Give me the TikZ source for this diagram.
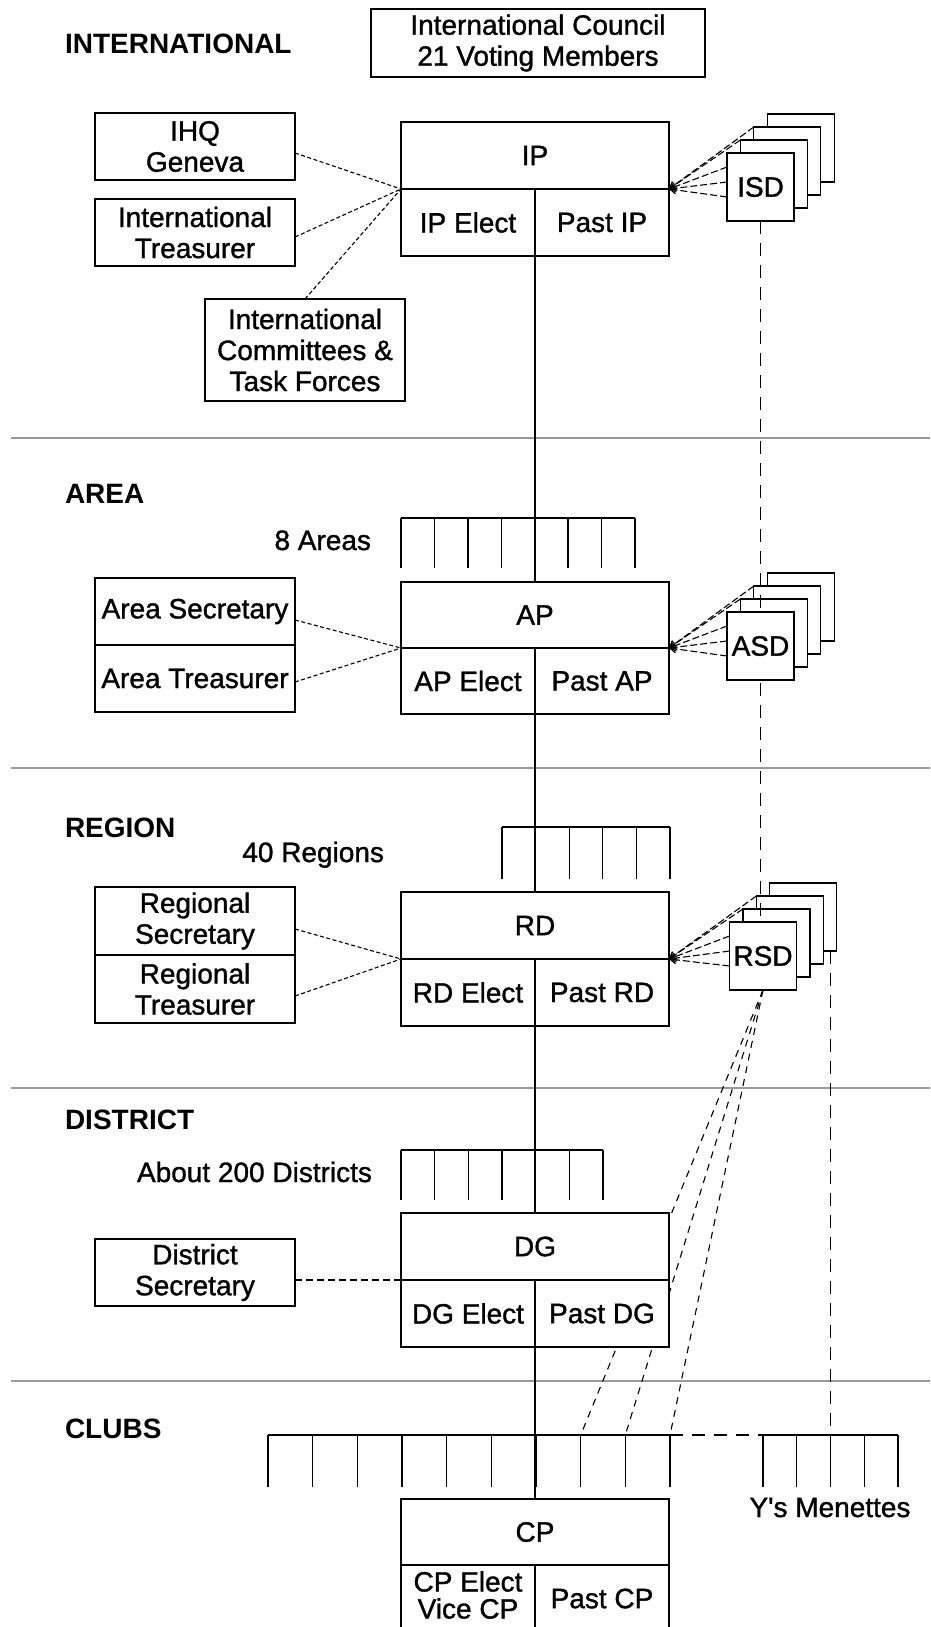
\documentclass[tikz,border=0pt]{standalone}
\usepackage{fontspec}
\setmainfont{Liberation Sans}
\newfontfamily\boxfont{Liberation Sans}[FakeBold=1.2]
\usetikzlibrary{arrows.meta,calc}
\begin{document}
\begin{tikzpicture}[x=1pt,y=-1pt,
 every node/.style={inner sep=0pt,outer sep=0pt,align=center,font=\fontsize{28}{31}\selectfont\boxfont},
 box/.style={draw,fill=white,line width=1.3pt,rectangle},
 wh/.style 2 args={minimum width=#1pt,minimum height=#2pt},
 stk/.style={box,wh={67}{68}},
 lvl/.style={font=\fontsize{28}{31}\selectfont\rmfamily\bfseries,anchor=base west},
 lbl/.style={anchor=base east},
 solidline/.style={line width=1.3pt},
 sepline/.style={line width=1.5pt,draw=black!40},
 fine/.style={line width=1.1pt,dash pattern=on 4pt off 2.5pt},
 fan/.style={line width=1.1pt,dash pattern=on 7pt off 3pt,-{Straight Barb[length=6pt,width=8pt]}},
 longdash/.style={line width=1.3pt,dash pattern=on 13pt off 9pt},
 middash/.style={line width=1.1pt,dash pattern=on 7pt off 6pt},
 ]
\useasboundingbox (0,0) rectangle (930,1627);

% separators
\foreach \y in {438,768,1088,1381} \draw[sepline] (11,\y) -- (930,\y);

% level labels
\node[lvl] (lint) at (65,54) {INTERNATIONAL};
\node[lvl] (larea) at (65,503) {AREA};
\node[lvl] (lreg) at (65,837) {REGION};
\node[lvl] (ldist) at (65,1129) {DISTRICT};
\node[lvl] (lclub) at (65,1438) {CLUBS};

% council
\node[box,wh={334}{68}] (council) at (538,43) {International Council\\21 Voting Members};

% ISD stack
\node[stk] (isd4) at (800.7,148) {};
\node[stk] (isd3) at (787.3,161) {};
\node[stk] (isd2) at (773.9,174) {};
\node[stk] (isd) at (760.5,187) {ISD};
% ASD back boxes
\node[stk] (asd4) at (800.7,607) {};
\node[stk] (asd3) at (787.3,620) {};
\node[stk] (asd2) at (773.9,633) {};
% RSD back boxes
\node[stk] (rsd4) at (803.2,917) {};
\node[stk] (rsd3) at (789.8,930) {};
\node[stk] (rsd2) at (776.4,943) {};
% ISD vertical
\draw[longdash] (isd.south) -- (isd.south |- rsd3.center);
% front boxes
\node[stk] (asd) at (760.5,646) {ASD};
\node[stk] (rsd) at (763,956) {RSD};

% comb coordinates
\coordinate (ys1) at (763,1435);
\coordinate (ys3) at (830.5,1435);
\coordinate (ys5) at (898,1435);
\coordinate (cl1) at (268,1435);
\coordinate (cl8) at (580.7,1435);
\coordinate (cl9) at (625.3,1435);
\coordinate (cl10) at (670,1435);

% right vertical to Y's Menettes
\draw[longdash] (ys3 |- rsd4.south) -- (ys3);
% RSD to clubs
\draw[middash] (rsd.south) -- (cl8);
\draw[middash] (rsd.south) -- (cl9);
\draw[middash] (rsd.south) -- (cl10);

% main boxes
\node[box,wh={268}{67}] (ip) at (535,155.5) {IP};
\node[box,wh={134}{67}] (ipe) at (468,222.5) {IP Elect};
\node[box,wh={134}{67}] (ipp) at (602,222.5) {Past IP};

\node[box,wh={268}{66}] (ap) at (535,615) {AP};
\node[box,wh={134}{66}] (ape) at (468,681) {AP Elect};
\node[box,wh={134}{66}] (app) at (602,681) {Past AP};

\node[box,wh={268}{67}] (rd) at (535,925.5) {RD};
\node[box,wh={134}{67}] (rde) at (468,992.5) {RD Elect};
\node[box,wh={134}{67}] (rdp) at (602,992.5) {Past RD};

\node[box,wh={268}{67}] (dg) at (535,1246.5) {DG};
\node[box,wh={134}{67}] (dge) at (468,1313.5) {DG Elect};
\node[box,wh={134}{67}] (dgp) at (602,1313.5) {Past DG};

\node[box,wh={268}{66}] (cp) at (535,1532) {CP};
\node[box,wh={134}{67}] (cpe) at (468,1598.5) {};
\node[box,wh={134}{67}] (cpp) at (602,1598.5) {Past CP};
\node[font=\fontsize{28}{27}\selectfont\boxfont] (cpet) at (468,1595) {CP Elect\\Vice CP};

% left boxes
\node[box,wh={200}{67}] (ihq) at (195,146.5) {IHQ\\Geneva};
\node[box,wh={200}{67}] (itreas) at (195,232.5) {International\\Treasurer};
\node[box,wh={200}{102}] (icom) at (305,350) {International\\Committees \&\\Task Forces};
\node[box,wh={200}{67}] (asec) at (195,611.5) {Area Secretary};
\node[box,wh={200}{67}] (atreas) at (195,678.5) {Area Treasurer};
\node[box,wh={200}{68}] (rsec) at (195,921) {Regional\\Secretary};
\node[box,wh={200}{68}] (rtreas) at (195,989) {Regional\\Treasurer};
\node[box,wh={200}{67}] (dsec) at (195,1272.5) {District\\Secretary};

% left connectors
\draw[fine] ([yshift=-6.5pt]ihq.east) -- (ip.south west);
\draw[fine] ([yshift=-4.5pt]itreas.east) -- (ip.south west);
\draw[fine] (icom.north) -- (ip.south west);
\draw[fine] ([yshift=-8.5pt]asec.east) -- (ap.south west);
\draw[fine] ([yshift=-3.5pt]atreas.east) -- (ap.south west);
\draw[fine] ([yshift=-8pt]rsec.east) -- (rd.south west);
\draw[fine] ([yshift=-7pt]rtreas.east) -- (rd.south west);
\draw[fine,dash pattern=on 7pt off 4pt] (dsec.east |- dg.south west) -- (dg.south west);

% fans from the secretary stacks
\foreach \s/\m in {isd/ip,asd/ap,rsd/rd}{
  \draw[fan] ([yshift=20pt]\s.west) -- (\m.south east);
  \draw[fan] ([yshift=5pt]\s.west) -- (\m.south east);
  \draw[fan] ([yshift=-10pt]\s.west) -- (\m.south east);
  \draw[fan] (\s2.north west) -- (\m.south east);
  \draw[fan] (\s3.north west) -- (\m.south east);
}

% main vertical connectors
\draw[solidline] (ipe.south east) -- (ap.north);
\draw[solidline] (ape.south east) -- (rd.north);
\draw[solidline] (rde.south east) -- (dg.north);
\draw[solidline] (dge.south east) -- (cp.north);

% combs
\coordinate (ar1) at (401,518); \coordinate (ar8) at (635,518);
\draw[solidline] (ar1) -- (ar8);
\foreach \i in {0,...,7} \draw[solidline] ($(ar1)!\i/7!(ar8)$) -- ++(0,50);
\coordinate (rg1) at (502,827); \coordinate (rg6) at (670,827);
\draw[solidline] (rg1) -- (rg6);
\foreach \i in {0,...,5} \draw[solidline] ($(rg1)!\i/5!(rg6)$) -- ++(0,52);
\coordinate (ds1) at (401,1150); \coordinate (ds7) at (603,1150);
\draw[solidline] (ds1) -- (ds7);
\foreach \i in {0,...,6} \draw[solidline] ($(ds1)!\i/6!(ds7)$) -- ++(0,50);
\draw[solidline] (cl1) -- (cl10);
\foreach \i in {0,...,9} \draw[solidline] ($(cl1)!\i/9!(cl10)$) -- ++(0,52);
\draw[solidline] (ys1) -- (ys5);
\foreach \i in {0,...,4} \draw[solidline] ($(ys1)!\i/4!(ys5)$) -- ++(0,52);
\draw[longdash] (cl10) -- (ys1);

% comb labels
\node[lbl] (l8) at (371,550) {8 Areas};
\node[lbl] (l40) at (384,862) {40 Regions};
\node[lbl] (l200) at (372,1182) {About 200 Districts};
\node[anchor=base] (lys) at (830,1517) {Y\char39 s Menettes};
\end{tikzpicture}
\end{document}
